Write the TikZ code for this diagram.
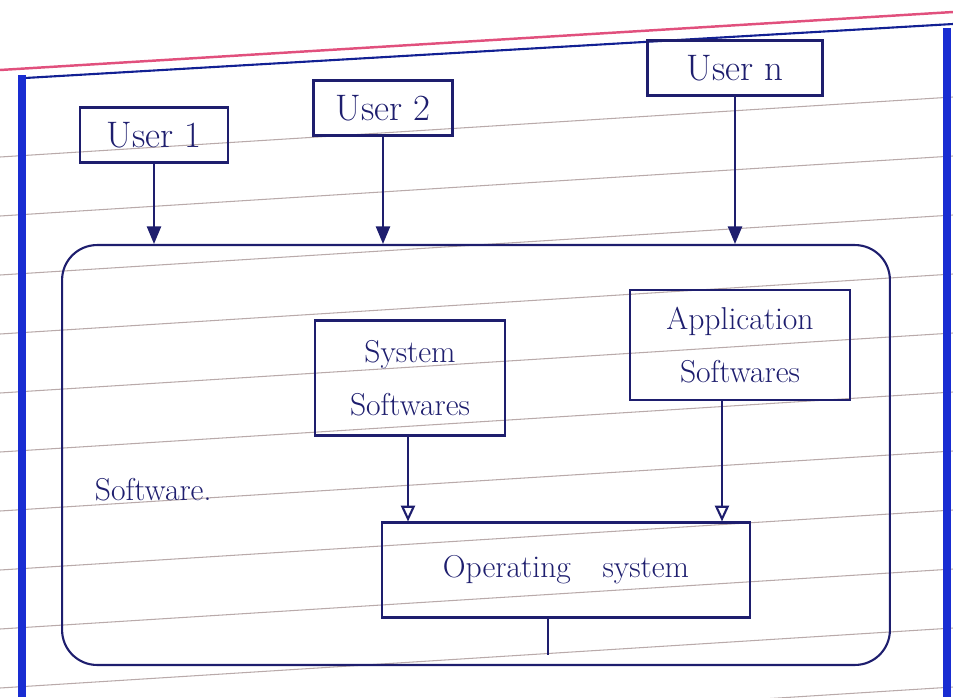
\documentclass[tikz,border=0pt]{standalone}
\usetikzlibrary{arrows.meta}
\definecolor{ink}{RGB}{30,30,110}
\definecolor{margin}{RGB}{25,45,210}
\definecolor{redline}{RGB}{225,80,125}
\definecolor{rule}{RGB}{185,170,170}

\begin{document}
\begin{tikzpicture}[x=0.02cm, y=-0.02cm,
    every node/.style={draw=ink, line width=1.2pt, rectangle, text=ink, align=center},
    userbox/.style={minimum height=1.1cm, font=\fontsize{21}{25}\selectfont},
    softbox/.style={font=\fontsize{18}{30}\selectfont},
    feed/.style={draw=ink, line width=1.2pt, -{Triangle[width=8pt, length=10pt]}},
    pass/.style={draw=ink, line width=1.2pt, -{Triangle[open, width=8pt, length=9pt]}}]
    \path[use as bounding box] (0,0) rectangle (953,697);

    % notebook page
    \foreach \y in {157,216,275,334,393,452,511,570,629,688,747}
        \draw[rule, line width=0.6pt] (0,\y) -- (953,\y-60);
    \draw[redline, line width=1.4pt] (0,70) -- (953,12);
    \draw[margin!70!black, line width=1.2pt] (25,78) -- (953,24);
    \draw[margin, line width=5pt] (22,75) -- (22,697);
    \draw[margin, line width=4pt] (947,28) -- (947,697);

    \node[userbox, minimum width=2.96cm] (u1) at (154,135) {User 1};
    \node[userbox, minimum width=2.78cm] (u2) at (383,108) {User 2};
    \node[userbox, minimum width=3.5cm]  (un) at (735,68)  {User n};

    \node[rounded corners=0.7cm, minimum width=16.56cm, minimum height=8.4cm] (sw) at (476,455) {};
    \node[draw=none, font=\fontsize{18}{22}\selectfont, anchor=west] (swlabel) at (88,490) {Software.};

    \node[softbox, minimum width=3.8cm, minimum height=2.3cm] (sys) at (410,378) {System\\Softwares};
    \node[softbox, minimum width=4.4cm, minimum height=2.2cm] (app) at (740,345) {Application\\Softwares};
    \node[softbox, minimum width=7.36cm, minimum height=1.9cm] (os) at (566,570) {Operating\quad system};

    % users use the software
    \draw[feed] (u1) -- (u1 |- sw.north);
    \draw[feed] (u2) -- (u2 |- sw.north);
    \draw[feed] (un) -- (un |- sw.north);

    % both kinds run on the OS
    \draw[pass] (sys.south -| 408,0) -- (os.north -| 408,0);
    \draw[pass] (app.south -| 722,0) -- (os.north -| 722,0);

    \coordinate (oslink) at (548,655);
    \draw[ink, line width=1.2pt] (oslink |- os.south) -- (oslink);

\end{tikzpicture}
\end{document}
